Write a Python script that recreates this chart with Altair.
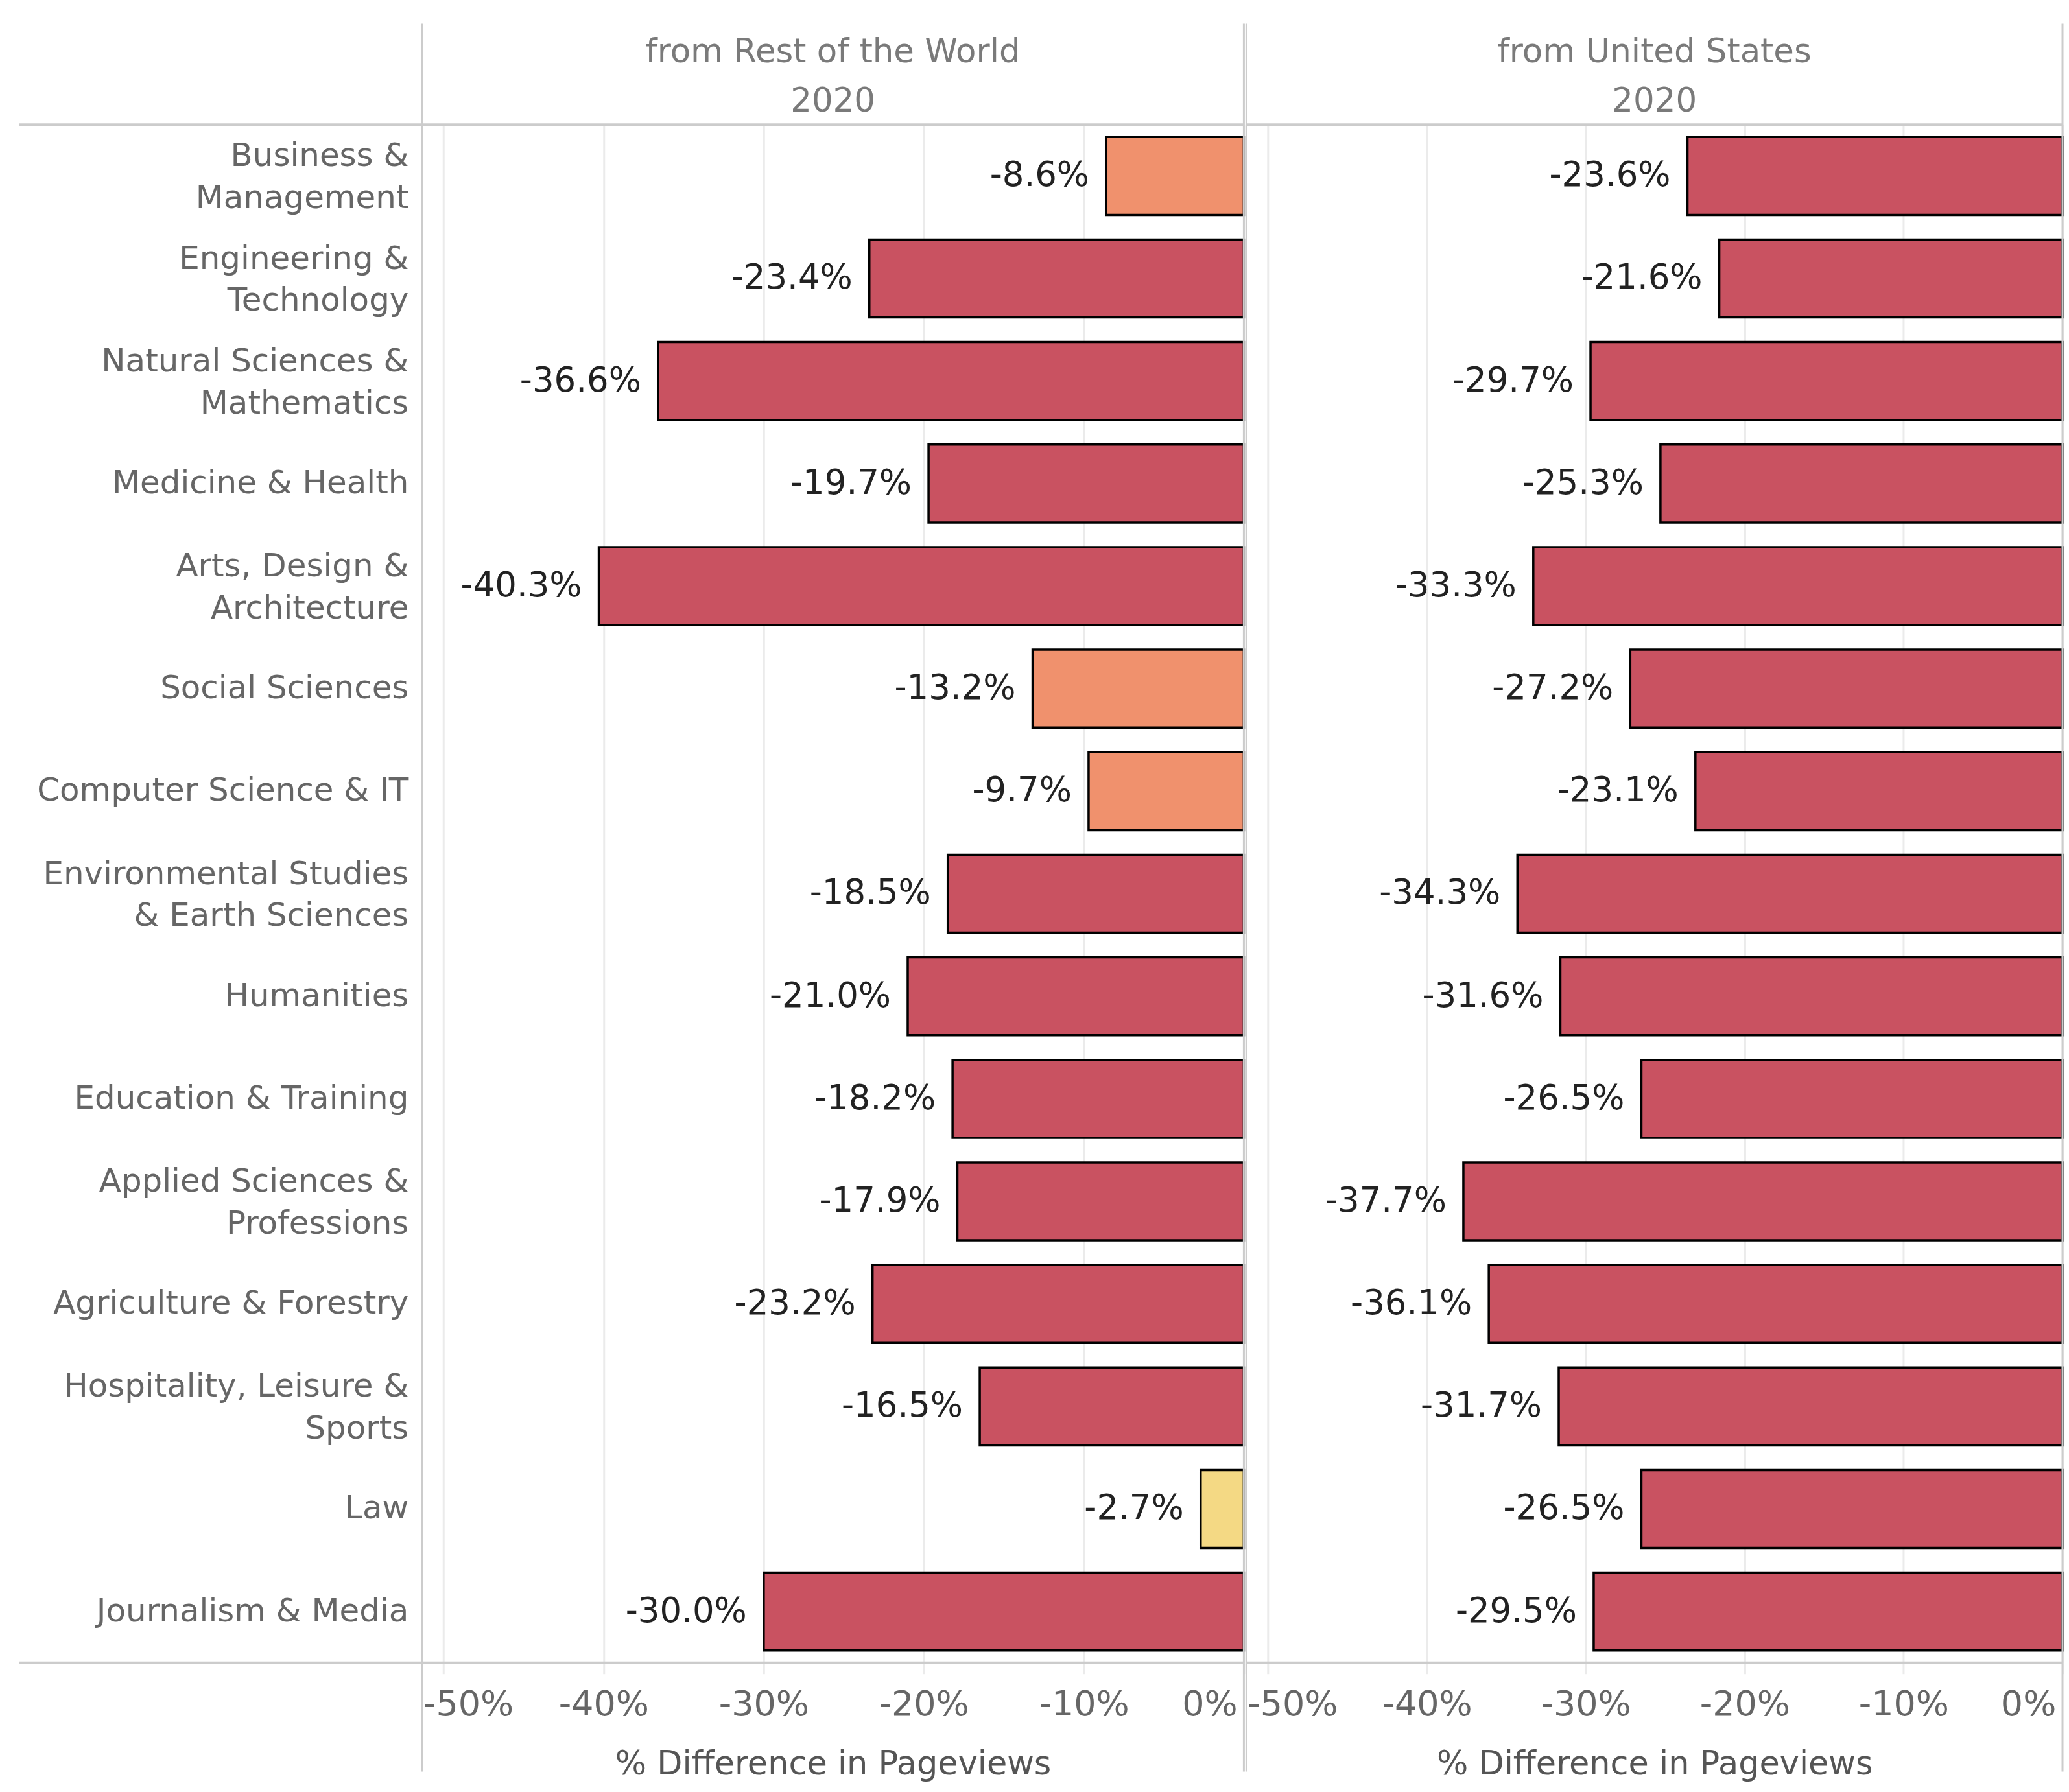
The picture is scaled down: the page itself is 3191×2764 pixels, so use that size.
import altair as alt
import pandas as pd

# ---------------- data ----------------
categories = [
    "Business & Management",
    "Engineering & Technology",
    "Natural Sciences & Mathematics",
    "Medicine & Health",
    "Arts, Design & Architecture",
    "Social Sciences",
    "Computer Science & IT",
    "Environmental Studies & Earth Sciences",
    "Humanities",
    "Education & Training",
    "Applied Sciences & Professions",
    "Agriculture & Forestry",
    "Hospitality, Leisure & Sports",
    "Law",
    "Journalism & Media",
]
label_lines = [
    ["Business &", "Management"],
    ["Engineering &", "Technology"],
    ["Natural Sciences &", "Mathematics"],
    ["Medicine & Health"],
    ["Arts, Design &", "Architecture"],
    ["Social Sciences"],
    ["Computer Science & IT"],
    ["Environmental Studies", "& Earth Sciences"],
    ["Humanities"],
    ["Education & Training"],
    ["Applied Sciences &", "Professions"],
    ["Agriculture & Forestry"],
    ["Hospitality, Leisure &", "Sports"],
    ["Law"],
    ["Journalism & Media"],
]
rest_of_world = [-8.6, -23.4, -36.6, -19.7, -40.3, -13.2, -9.7, -18.5, -21.0, -18.2, -17.9, -23.2, -16.5, -2.7, -30.0]
united_states = [-23.6, -21.6, -29.7, -25.3, -33.3, -27.2, -23.1, -34.3, -31.6, -26.5, -37.7, -36.1, -31.7, -26.5, -29.5]
regions = ["Rest of the World", "United States"]
panel_titles = ["from Rest of the World", "from United States"]
year_label = "2020"
x_ticks = [-50, -40, -30, -20, -10, 0]
x_title = "% Difference in Pageviews"
color_breaks = [-15, -5]
bar_colors = ["#C95261", "#F0916D", "#F4D984"]

rows = []
for reg, vals in zip(regions, [rest_of_world, united_states]):
    for c, v in zip(categories, vals):
        rows.append({"category": c, "region": reg, "value": v})
df = pd.DataFrame(rows)

# multi-line y labels
parts = []
multi = []
for c, lines in zip(categories, label_lines):
    if len(lines) > 1:
        arr = "[" + ", ".join("'" + l + "'" for l in lines) + "]"
        parts.append("datum.label == '" + c + "' ? " + arr + " : ")
        multi.append("'" + c + "'")
label_expr = "".join(parts) + "datum.label"
multi_test = "indexof([" + ", ".join(multi) + "], datum.label) >= 0"

FONT = "DejaVu Sans"
H = 2377
LINE = "#cccccc"
GRID = "#ebebeb"
one = pd.DataFrame({"k": [0]})


def panel(region, title_text, width, show_y):
    base = alt.Chart(df).transform_filter(alt.datum.region == region)
    if show_y:
        y_axis = alt.Axis(
            labelExpr=label_expr,
            labelFontSize=50,
            labelColor="#666666",
            labelFont=FONT,
            labelPadding=21,
            labelLineHeight=65,
            labelLimit=900,
            labelAlign="right",
            labelBaseline="middle",
            labelOffset={"condition": {"test": multi_test, "value": -30}, "value": 0},
            ticks=False,
            domain=False,
            grid=False,
            title=None,
        )
    else:
        y_axis = None
    y = alt.Y(
        "category:N",
        sort=categories,
        scale=alt.Scale(paddingInner=0.24, paddingOuter=0.12),
        axis=y_axis,
        title=None,
    )
    x = alt.X(
        "value:Q",
        scale=alt.Scale(domain=[-51.35, 0], nice=False),
        title=x_title,
        axis=alt.Axis(
            values=x_ticks,
            labelExpr="datum.value + '%'",
            labelFontSize=54,
            labelColor="#666666",
            labelFont=FONT,
            labelFlush=False,
            labelOverlap=False,
            labelBound=False,
            labelPadding=21,
            labelOffset={
                "condition": [
                    {"test": "datum.value <= -50", "value": 38},
                    {"test": "datum.value >= 0", "value": -53},
                ],
                "value": 0,
            },
            domain=False,
            grid=True,
            gridColor=GRID,
            gridWidth=3,
            ticks=True,
            tickColor=GRID,
            tickWidth=3,
            tickSize=17,
            titleFontSize=51,
            titleColor="#555555",
            titleFont=FONT,
            titleFontWeight="normal",
            titlePadding=40,
        ),
    )
    bars = base.mark_bar(stroke="black", strokeWidth=3.5).encode(
        x=x,
        y=y,
        color=alt.Color(
            "value:Q",
            scale=alt.Scale(type="threshold", domain=color_breaks, range=bar_colors),
            legend=None,
        ),
    )
    labels = base.transform_calculate(
        lbl="(datum.value < 0 ? '-' : '') + format(abs(datum.value), '.1f') + '%'"
    ).mark_text(
        align="right", baseline="middle", dx=-26, fontSize=53, font=FONT, color="#222222"
    ).encode(x="value:Q", y=alt.Y("category:N", sort=categories), text="lbl:N")

    left_ext = -622 if show_y else 0
    frame_rules = []
    # vertical frame lines
    for xx in [0, width]:
        frame_rules.append(
            alt.Chart(one).mark_rule(color=LINE, strokeWidth=3).encode(
                x=alt.value(xx), y=alt.value(-156), y2=alt.value(2545)
            )
        )
    # horizontal frame lines
    for yy in [0, H]:
        frame_rules.append(
            alt.Chart(one).mark_rule(color=LINE, strokeWidth=4).encode(
                y=alt.value(yy), x=alt.value(left_ext), x2=alt.value(width)
            )
        )
    layer = alt.layer(bars, labels, *frame_rules).properties(
        width=width,
        height=H,
        title=alt.TitleParams(
            text=[title_text, year_label],
            fontSize=51.5,
            color="#7a7a7a",
            font=FONT,
            fontWeight="normal",
            lineHeight=76,
            offset=-148,
            frame="group",
            anchor="middle",
        ),
    )
    return layer


p1 = panel(regions[0], panel_titles[0], 1270, True)
p2 = panel(regions[1], panel_titles[1], 1261, False)

chart = (
    alt.hconcat(p1, p2, spacing=0)
    .properties(padding={"left": 20, "top": 24, "right": 0, "bottom": 0}, background="white")
    .configure(font=FONT)
    .configure_view(stroke=None)
)

chart.save("out.html", embed_options={"renderer": "svg", "actions": False})
